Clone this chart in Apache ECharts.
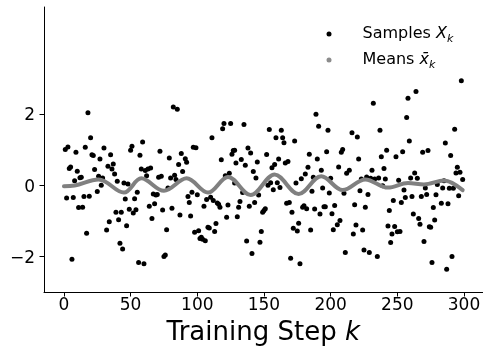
<!DOCTYPE html>
<html>
<head>
<meta charset="utf-8">
<script src="https://cdn.jsdelivr.net/npm/echarts@6/dist/echarts.min.js"></script>
<style>
  html, body { margin: 0; padding: 0; background: #fff; }
  #chart { width: 484px; height: 354px; }
</style>
</head>
<body>
<div id="chart"></div>
<script>
// samples X_k (step, value)
const sampleSteps = [
  1, 2, 3, 4, 5, 6, 7, 8, 9, 10, 11, 12, 13, 14, 15, 16, 17, 18, 19, 20,
  21, 22, 23, 25, 26, 27, 28, 29, 30, 32, 33, 34, 35, 36, 37, 38, 39, 40, 41, 42,
  43, 44, 45, 46, 47, 48, 49, 50, 51, 52, 53, 54, 55, 56, 57, 58, 59, 60, 61, 62,
  63, 64, 65, 66, 67, 68, 69, 70, 71, 72, 73, 74, 75, 76, 77, 78, 79, 80, 81, 82,
  83, 84, 85, 86, 87, 88, 89, 91, 92, 93, 94, 95, 96, 97, 98, 99, 100, 101, 102, 103,
  104, 105, 106, 107, 108, 109, 110, 111, 112, 113, 114, 115, 116, 117, 118, 119, 120, 121, 122, 123,
  124, 125, 126, 127, 128, 128, 129, 130, 131, 132, 133, 134, 135, 136, 137, 138, 139, 140, 141, 142,
  143, 144, 145, 146, 147, 148, 149, 150, 151, 152, 153, 154, 155, 156, 157, 158, 159, 160, 161, 162,
  163, 164, 165, 166, 167, 168, 169, 170, 171, 172, 173, 174, 175, 176, 177, 178, 179, 180, 181, 182,
  183, 184, 185, 186, 187, 188, 189, 190, 191, 192, 193, 194, 195, 196, 197, 198, 199, 200, 201, 202,
  203, 205, 206, 207, 208, 209, 210, 211, 212, 214, 216, 217, 218, 219, 220, 221, 222, 223, 224, 225,
  226, 227, 228, 229, 230, 231, 232, 233, 235, 236, 237, 238, 239, 240, 241, 242, 243, 244, 245, 246,
  247, 248, 249, 250, 251, 252, 253, 254, 255, 256, 257, 258, 259, 260, 261, 262, 263, 264, 265, 266,
  267, 268, 269, 270, 271, 272, 273, 274, 275, 276, 277, 278, 279, 280, 283, 284, 285, 286, 287, 288,
  289, 290, 291, 292, 293, 294, 295, 296, 297, 298, 299
];
const sampleValues = [
  1.0, -0.36, 1.07, 0.47, 0.51, -2.08, -0.35, 0.12, 0.92, 0.39, -0.63, 0.21, 0.22, -0.62, -0.32, 1.06, -1.35, 2.03, -0.31, 1.33,
  0.85, 0.83, 0.44, -0.18, 0.25, 0.73, 0.0, 0.2, 1.04, -1.26, 0.53, -1.03, 0.85, 0.45, 0.59, 0.31, -0.76, 0.11, -0.97, -1.63,
  -0.76, -1.79, 0.06, -0.39, -1.14, 0.03, -0.68, 0.98, 1.09, -0.78, -0.38, -0.69, -0.2, -2.17, 0.84, 0.45, 1.21, -2.21, 0.41, 0.26,
  0.45, -0.59, 0.48, -0.94, -0.25, -0.52, -0.28, -0.26, 0.22, 0.95, 0.25, -0.7, -2.0, -1.96, -1.25, -0.08, 0.76, 0.2, -0.65, 2.19,
  0.28, 0.16, 2.13, 0.58, -0.84, 0.89, 0.38, 0.74, 0.64, -0.32, -0.49, -0.87, -0.2, 1.06, -1.32, 1.05, -0.27, -1.28, -1.5, -1.46,
  -1.52, -0.59, -1.56, -0.4, -1.18, -1.2, -0.34, 1.33, -0.43, -1.3, -1.08, -0.5, -0.54, -0.62, 0.71, 1.58, 1.73, 0.26, -0.9, -0.56,
  0.33, 1.73, 0.87, 0.97, 0.98, 0.06, 0.62, -0.89, -0.62, -0.46, 0.72, -0.21, 1.7, 0.56, -1.57, 1.04, -0.59, 0.9, -1.92, 0.38,
  -0.49, 0.2, 0.65, -0.28, -1.6, -1.3, -0.76, -0.71, -0.66, 0.86, 0.0, 1.56, 0.07, 0.49, -0.13, 0.58, 1.33, 0.07, 0.73, -0.07,
  1.54, 1.33, 1.19, 0.62, -0.51, 0.66, -0.49, -2.05, -0.76, -1.21, 1.24, 0.06, -1.29, -1.07, -2.21, 0.18, -0.62, -0.58, 0.31, -0.66,
  0.5, 0.87, -1.26, -0.17, 0.22, -0.67, 1.99, 0.73, 1.65, -0.81, 0.42, -0.08, -0.61, -0.61, 0.94, 1.54, -0.22, 0.19, -0.8, -1.25,
  -0.57, -1.11, 0.51, -0.99, 0.92, 1.0, -0.23, -1.89, 0.33, 0.42, 1.47, -1.37, -0.55, -1.12, 1.35, 0.73, -0.16, 0.17, -1.26, -1.82,
  -0.62, 0.23, -0.26, -1.89, 0.19, 0.42, 2.3, 0.17, -2.0, 0.2, 1.54, 0.8, -0.02, 0.47, 0.17, 0.98, -1.15, -0.71, -1.61, -1.37,
  -0.43, -1.16, 0.8, -1.31, 0.14, -1.3, -0.49, 0.94, -0.14, -0.35, 1.9, 2.44, 1.24, 0.2, -0.32, -0.81, 0.34, 2.63, 0.19, -0.94,
  -1.1, -0.32, 0.92, -1.58, -0.08, -0.26, 0.97, -1.17, -1.18, -2.17, -0.63, -0.98, -0.27, 0.02, -0.51, -0.08, 0.12, 1.18, -2.36, -0.52,
  -0.09, 0.83, -2.0, -0.09, 1.57, 0.34, 0.5, -0.3, 0.36, 2.93, 0.16
];

// means x̄_k, peaks / troughs of the grey curve
const meanSteps = [0, 8, 26, 45, 58, 75, 92, 108, 123, 140, 158, 176, 193, 209, 226, 243, 258, 270, 285, 299];
const meanValues = [-0.03, -0.01, 0.16, -0.21, 0.19, -0.16, 0.19, -0.21, 0.23, -0.28, 0.3, -0.25, 0.25, -0.14, 0.16, -0.07, 0.06, 0.02, 0.13, -0.14];

const xTicks = [0, 50, 100, 150, 200, 250, 300];
const yTicks = [-2, 0, 2];

const FONT = 'DejaVu Sans';
const chart = echarts.init(document.getElementById('chart'), null, { renderer: 'canvas' });

chart.setOption({
  animation: false,
  backgroundColor: '#fff',
  grid: { left: 44, right: 1.4, top: 7, bottom: 62, containLabel: false },
  legend: {
    orient: 'vertical',
    left: 326.5,
    top: 26,
    padding: 0,
    itemGap: 7,
    itemWidth: 5,
    itemHeight: 5,
    icon: 'circle',
    data: ['Samples', 'Means'],
    formatter: function (name) {
      return name === 'Samples' ? '{n|Samples }{i|X}{s|k}' : '{n|Means }{i|x\u0304}{s|k}';
    },
    textStyle: {
      fontFamily: FONT,
      fontSize: 16,
      color: '#000',
      padding: [0, 0, 0, 26],
      rich: {
        n: { fontFamily: FONT, fontSize: 16, lineHeight: 22, color: '#000' },
        i: { fontFamily: FONT, fontSize: 16, fontStyle: 'italic', lineHeight: 22, color: '#000' },
        s: { fontFamily: FONT, fontSize: 11, fontStyle: 'italic', lineHeight: 12, verticalAlign: 'bottom', color: '#000' }
      }
    }
  },
  xAxis: {
    type: 'value',
    min: -14.95,
    max: 313.95,
    name: '{a|Training Step }{b|k}',
    nameLocation: 'middle',
    nameGap: 28,
    nameTextStyle: {
      fontFamily: FONT,
      fontSize: 26,
      color: '#000',
      rich: {
        a: { fontFamily: FONT, fontSize: 26, color: '#000' },
        b: { fontFamily: FONT, fontSize: 26, fontStyle: 'italic', color: '#000' }
      }
    },
    axisLine: { onZero: false, lineStyle: { color: '#000', width: 1 } },
    axisTick: { show: true, length: 4.5, customValues: xTicks, lineStyle: { color: '#000', width: 1 } },
    axisLabel: { customValues: xTicks, fontFamily: FONT, fontSize: 17, color: '#000', margin: 5 },
    splitLine: { show: false }
  },
  yAxis: {
    type: 'value',
    min: -3,
    max: 5,
    axisLine: { show: true, onZero: false, lineStyle: { color: '#000', width: 1 } },
    axisTick: { show: true, length: 4.5, customValues: yTicks, lineStyle: { color: '#000', width: 1 } },
    axisLabel: {
      customValues: yTicks,
      fontFamily: FONT,
      fontSize: 17,
      color: '#000',
      margin: 9,
      formatter: function (v) { return '{v|' + String(v).replace('-', '\u2212') + '}'; },
      rich: {
        v: { fontFamily: FONT, fontSize: 17, color: '#000', padding: [4, 0, 0, 0] }
      }
    },
    splitLine: { show: false }
  },
  series: [
    {
      name: 'Samples',
      type: 'scatter',
      symbol: 'circle',
      symbolSize: 5,
      itemStyle: { color: '#000', opacity: 1 },
      data: sampleSteps.map((k, i) => [k, sampleValues[i]]),
      z: 2
    },
    {
      name: 'Means',
      type: 'line',
      smooth: 0.36,
      showSymbol: false,
      symbol: 'circle',
      color: '#808080',
      itemStyle: { color: '#8c8c8c' },
      lineStyle: { color: '#808080', width: 4, cap: 'round', join: 'round' },
      data: meanSteps.map((k, i) => [k, meanValues[i]]),
      z: 3
    }
  ]
});
</script>
</body>
</html>
